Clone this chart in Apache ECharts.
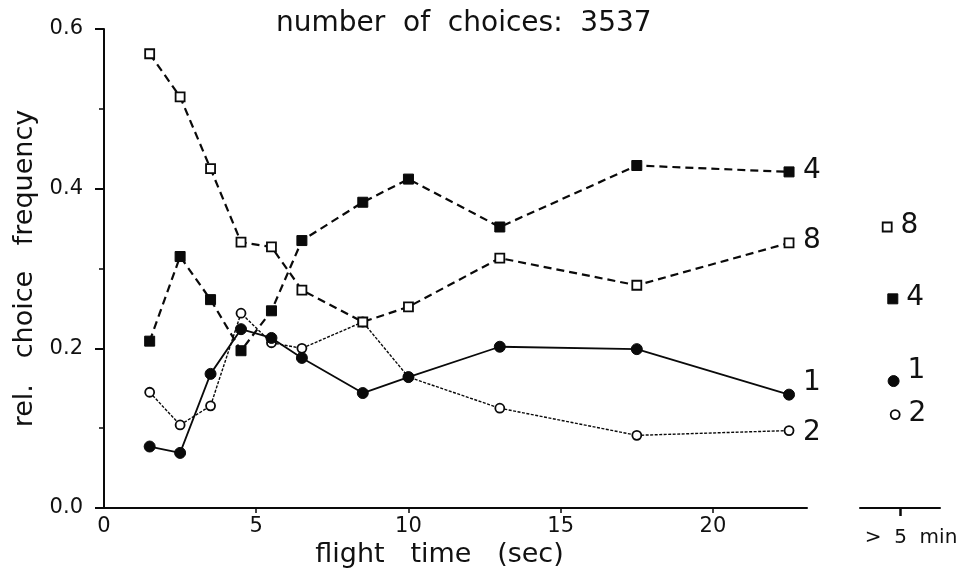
<!DOCTYPE html>
<html>
<head>
<meta charset="utf-8">
<script src="https://cdn.jsdelivr.net/npm/echarts@6/dist/echarts.min.js"></script>
<style>html,body{margin:0;padding:0;background:#fff}#c{width:970px;height:575px}</style>
</head>
<body>
<div id="c"></div>
<script>
// ---- data ----
const flightTime = [1.5, 2.5, 3.5, 4.5, 5.5, 6.5, 8.5, 10, 13, 17.5, 22.5];
const series8 = [0.569, 0.515, 0.425, 0.333, 0.327, 0.273, 0.233, 0.252, 0.313, 0.279, 0.332];
const series4 = [0.209, 0.315, 0.261, 0.197, 0.247, 0.335, 0.383, 0.412, 0.352, 0.429, 0.421];
const series1 = [0.077, 0.069, 0.168, 0.224, 0.213, 0.188, 0.144, 0.164, 0.202, 0.199, 0.142];
const series2 = [0.145, 0.104, 0.128, 0.244, 0.207, 0.200, 0.233, 0.164, 0.125, 0.091, 0.097];
const longNames = ['8', '4', '1', '2'];
const longX = [0.34, 0.41, 0.42, 0.44];
const longY = [0.352, 0.262, 0.159, 0.117];
const xTicks = [0, 5, 10, 15, 20];
const titleText = 'number  of  choices:  3537';
const xName = 'flight   time   (sec)';
const yName = 'rel.   choice   frequency';
const longLabel = '>  5  min';

const FONT = 'DejaVu Sans';
const INK = '#0a0a0a';
const TXT = '#111';

function pairs(xs, ys) { return xs.map((x, i) => [x, ys[i]]); }

const chart = echarts.init(document.getElementById('c'), null, {renderer: 'canvas'});
const endLbl = (txt, offY) => ({
  show: true, formatter: txt, distance: 14, offset: [0, offY || 0],
  fontFamily: FONT, fontSize: 28, color: TXT
});

chart.setOption({
  animation: false,
  backgroundColor: '#fff',
  title: {
    text: titleText, left: 271, top: 5,
    textStyle: {fontFamily: FONT, fontSize: 28, fontWeight: 'normal', color: TXT}
  },
  grid: [
    {left: 104, top: 29, width: 703, height: 479},
    {left: 860, top: 29, width: 80, height: 479}
  ],
  xAxis: [
    {
      gridIndex: 0, type: 'value', min: 0, max: 23.09,
      name: xName, nameLocation: 'middle', nameGap: 26,
      nameTextStyle: {fontFamily: FONT, fontSize: 27, color: TXT, padding: [0, 32, 0, 0]},
      axisLine: {show: true, lineStyle: {color: INK, width: 2}},
      axisTick: {show: true, length: 5, lineStyle: {color: INK, width: 1.5}, customValues: [5, 10, 15, 20]},
      axisLabel: {customValues: xTicks, fontFamily: FONT, fontSize: 21, color: TXT, margin: 8},
      splitLine: {show: false}
    },
    {
      gridIndex: 1, type: 'value', min: 0, max: 1,
      axisLine: {show: true, lineStyle: {color: INK, width: 2}},
      axisTick: {show: true, length: 8, lineStyle: {color: INK, width: 2.5}, customValues: [0.5]},
      axisLabel: {customValues: [0.5], formatter: () => longLabel, fontFamily: FONT, fontSize: 20,
        color: TXT, margin: 20, padding: [0, 0, 0, 22]},
      splitLine: {show: false}
    }
  ],
  yAxis: [
    {
      gridIndex: 0, type: 'value', min: 0, max: 0.6, interval: 0.2,
      name: yName, nameLocation: 'middle', nameGap: 50, nameRotate: 90,
      nameTextStyle: {fontFamily: FONT, fontSize: 27, color: TXT},
      axisLine: {show: true, lineStyle: {color: INK, width: 2}},
      axisTick: {show: true, length: 9, lineStyle: {color: INK, width: 2}},
      minorTick: {show: true, splitNumber: 2, length: 5, lineStyle: {color: INK, width: 1.5}},
      axisLabel: {formatter: v => v.toFixed(1), fontFamily: FONT, fontSize: 21, color: TXT, margin: 21},
      splitLine: {show: false}
    },
    {gridIndex: 1, type: 'value', min: 0, max: 0.6, show: false}
  ],
  series: [
    {
      name: '2', type: 'line', xAxisIndex: 0, yAxisIndex: 0, data: pairs(flightTime, series2),
      symbol: 'circle', symbolSize: 9,
      itemStyle: {color: '#fff', borderColor: INK, borderWidth: 1.8},
      lineStyle: {color: INK, width: 1.4, type: [3, 1.5]},
      endLabel: endLbl('2', 2)
    },
    {
      name: '1', type: 'line', xAxisIndex: 0, yAxisIndex: 0, data: pairs(flightTime, series1),
      symbol: 'circle', symbolSize: 11,
      itemStyle: {color: INK, borderColor: INK, borderWidth: 1},
      lineStyle: {color: INK, width: 1.8, type: 'solid'},
      endLabel: endLbl('1', -12)
    },
    {
      name: '4', type: 'line', xAxisIndex: 0, yAxisIndex: 0, data: pairs(flightTime, series4),
      symbol: 'rect', symbolSize: 10,
      itemStyle: {color: INK, borderColor: INK, borderWidth: 1},
      lineStyle: {color: INK, width: 2.2, type: [8, 5]},
      endLabel: endLbl('4', -1)
    },
    {
      name: '8', type: 'line', xAxisIndex: 0, yAxisIndex: 0, data: pairs(flightTime, series8),
      symbol: 'rect', symbolSize: 9,
      itemStyle: {color: '#fff', borderColor: INK, borderWidth: 1.8},
      lineStyle: {color: INK, width: 2.2, type: [8, 5]},
      endLabel: endLbl('8', -2)
    },
    {
      name: 'long', type: 'scatter', xAxisIndex: 1, yAxisIndex: 1,
      data: longNames.map((n, i) => {
        const open = (n === '8' || n === '2');
        const sq = (n === '8' || n === '4');
        return {
          value: [longX[i], longY[i]], name: n,
          symbol: sq ? 'rect' : 'circle',
          symbolSize: n === '1' ? 11 : (n === '4' ? 10 : 9),
          itemStyle: {color: open ? '#fff' : INK, borderColor: INK, borderWidth: open ? 1.8 : 1, opacity: 1},
          label: {offset: n === '1' ? [0, -10] : [0, -1]}
        };
      }),
      itemStyle: {opacity: 1},
      label: {show: true, position: 'right', distance: 8, formatter: p => p.name,
        fontFamily: FONT, fontSize: 28, color: TXT, opacity: 1}
    }
  ]
});
</script>
</body>
</html>
